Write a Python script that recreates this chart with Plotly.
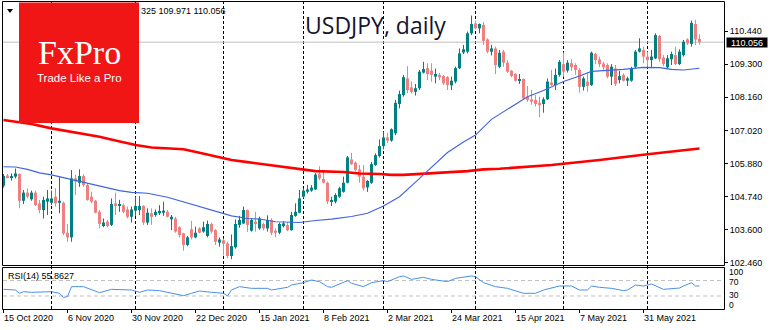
import pandas as pd
import plotly.graph_objects as go

# ---------------- data: USDJPY daily, 15 Oct 2020 - 18 Jun 2021 ----------------
opens = [105.12, 105.47, 105.38, 105.43, 105.52, 104.60, 104.88, 104.65, 104.88, 104.51,
         104.28, 104.57, 104.53, 104.74, 104.53, 104.53, 103.50, 103.34, 105.37, 105.22,
         105.45, 105.14, 104.74, 104.60, 104.22, 103.73, 103.88, 103.77, 104.51, 104.42,
         104.45, 104.30, 104.05, 104.26, 104.28, 104.42, 103.85, 104.17, 104.11, 104.17,
         104.19, 104.22, 103.96, 103.99, 103.69, 103.48, 103.08, 103.62, 103.34, 103.65,
         103.54, 103.39, 103.80, 103.59, 103.16, 103.24, 103.13, 102.70, 103.00, 103.77,
         103.82, 104.28, 103.57, 103.88, 103.65, 103.80, 103.65, 103.94, 103.57, 103.50,
         103.73, 103.77, 103.59, 104.08, 104.19, 104.74, 104.91, 104.95, 104.99, 105.52,
         105.35, 105.22, 104.57, 104.57, 104.74, 104.91, 105.22, 106.02, 105.91, 105.68,
         105.43, 105.06, 105.22, 105.83, 106.14, 106.48, 106.78, 106.67, 106.92, 107.93,
         108.24, 108.81, 108.50, 108.35, 108.47, 109.01, 109.16, 109.08, 108.87, 108.93,
         108.89, 108.85, 108.57, 108.70, 109.16, 109.70, 109.73, 110.36, 110.70, 110.53,
         110.65, 110.15, 109.73, 109.84, 109.21, 109.73, 109.35, 109.07, 108.96, 108.73,
         108.79, 108.18, 108.09, 108.07, 107.97, 107.93, 108.09, 108.67, 108.58, 108.93,
         109.30, 109.08, 109.33, 109.27, 109.10, 108.52, 108.70, 108.58, 109.65, 109.46,
         109.32, 109.27, 108.87, 109.15, 108.75, 108.93, 108.73, 108.73, 109.21, 109.73,
         109.79, 109.56, 109.44, 109.50, 110.27, 109.53, 109.19, 109.47, 109.61, 109.30,
         109.61, 110.15, 110.00, 110.68, 110.17]
highs = [105.52, 105.52, 105.54, 105.71, 105.54, 104.97, 105.03, 104.95, 104.95, 104.63,
         104.74, 104.97, 104.95, 105.03, 105.41, 104.57, 103.80, 105.66, 105.49, 105.68,
         105.52, 105.20, 104.91, 104.63, 104.28, 103.99, 103.94, 104.68, 104.88, 104.63,
         104.51, 104.40, 104.40, 104.74, 104.76, 104.45, 104.34, 104.34, 104.30, 104.45,
         104.57, 104.28, 104.11, 104.05, 103.73, 103.50, 103.39, 103.91, 103.71, 103.69,
         103.88, 103.92, 103.85, 103.62, 103.34, 103.30, 103.19, 103.44, 103.96, 104.08,
         104.40, 104.30, 104.00, 104.22, 104.05, 103.85, 104.10, 104.00, 103.65, 103.85,
         103.90, 103.85, 104.22, 104.51, 104.97, 105.03, 105.14, 105.14, 105.55, 105.79,
         105.60, 105.26, 104.74, 104.86, 105.08, 105.43, 106.14, 106.25, 105.95, 105.83,
         105.83, 105.31, 105.94, 106.23, 106.71, 106.98, 106.94, 107.09, 108.07, 108.39,
         108.93, 109.23, 108.70, 108.62, 109.10, 109.38, 109.33, 109.33, 109.15, 109.00,
         108.93, 108.89, 108.87, 109.21, 109.84, 109.96, 110.42, 110.97, 110.80, 110.70,
         110.75, 110.19, 109.96, 109.90, 109.79, 109.79, 109.44, 109.10, 108.99, 108.96,
         108.81, 108.55, 108.41, 108.24, 108.18, 108.16, 108.81, 109.10, 109.15, 109.44,
         109.70, 109.44, 109.47, 109.33, 109.16, 108.87, 108.98, 109.73, 109.69, 109.56,
         109.38, 109.33, 109.30, 109.27, 109.07, 108.98, 108.87, 109.21, 109.79, 110.19,
         109.90, 109.73, 109.79, 110.36, 110.30, 109.61, 109.61, 109.73, 109.90, 109.81,
         110.13, 110.19, 110.80, 110.82, 110.325]
lows = [105.05, 105.37, 105.29, 105.37, 104.34, 104.49, 104.68, 104.60, 104.42, 104.17,
        103.99, 104.11, 104.45, 104.40, 104.17, 103.42, 103.19, 103.19, 104.80, 105.08,
        105.08, 104.60, 104.51, 104.17, 103.65, 103.69, 103.69, 103.73, 104.11, 104.22,
        104.17, 103.99, 103.85, 104.08, 104.11, 103.77, 103.77, 103.77, 104.05, 104.11,
        104.08, 104.03, 103.59, 103.50, 103.34, 102.88, 103.04, 103.27, 103.31, 103.48,
        103.50, 103.34, 103.48, 103.08, 103.02, 102.72, 102.62, 102.59, 102.95, 103.67,
        103.80, 103.53, 103.54, 103.54, 103.60, 103.58, 103.54, 103.42, 103.34, 103.45,
        103.68, 103.55, 103.57, 104.05, 104.17, 104.68, 104.85, 104.91, 104.97, 105.31,
        105.20, 104.49, 104.42, 104.51, 104.70, 104.88, 105.20, 105.83, 105.60, 105.22,
        104.95, 104.91, 105.18, 105.80, 106.09, 106.37, 106.58, 106.63, 106.86, 107.78,
        108.18, 108.30, 108.29, 108.22, 108.41, 108.98, 108.75, 108.70, 108.64, 108.75,
        108.58, 108.41, 108.41, 108.64, 109.13, 109.65, 109.67, 110.30, 110.50, 110.36,
        109.96, 109.67, 109.60, 108.96, 109.16, 109.21, 109.00, 108.85, 108.70, 108.62,
        108.09, 108.00, 107.90, 107.84, 107.47, 107.63, 108.07, 108.55, 108.41, 108.87,
        108.87, 109.01, 109.07, 108.93, 108.32, 108.39, 108.35, 108.55, 109.30, 109.19,
        109.10, 108.81, 108.58, 108.55, 108.64, 108.70, 108.55, 108.70, 109.16, 109.70,
        109.33, 109.21, 109.16, 109.47, 109.38, 109.23, 109.16, 109.27, 109.27, 109.27,
        109.56, 109.96, 109.90, 109.96, 109.971]
closes = [105.45, 105.41, 105.45, 105.54, 104.60, 104.88, 104.74, 104.88, 104.45, 104.28,
          104.63, 104.68, 104.68, 104.51, 104.60, 103.48, 103.34, 105.37, 105.26, 105.45,
          105.14, 104.63, 104.57, 104.19, 103.80, 103.85, 103.73, 104.49, 104.42, 104.49,
          104.22, 104.05, 104.30, 104.42, 104.42, 103.85, 104.19, 104.05, 104.22, 104.25,
          104.26, 104.05, 104.05, 103.54, 103.42, 103.08, 103.34, 103.34, 103.50, 103.50,
          103.69, 103.80, 103.54, 103.19, 103.27, 103.12, 102.70, 103.04, 103.80, 103.94,
          104.28, 103.77, 103.94, 103.80, 103.99, 103.65, 103.94, 103.50, 103.50, 103.80,
          103.82, 103.59, 104.11, 104.22, 104.68, 104.95, 104.99, 105.05, 105.50, 105.37,
          105.22, 104.57, 104.60, 104.80, 105.03, 105.22, 106.09, 105.86, 105.66, 105.43,
          105.03, 105.28, 105.86, 106.17, 106.48, 106.78, 106.67, 107.06, 107.97, 108.27,
          108.85, 108.41, 108.35, 108.47, 109.04, 109.13, 108.96, 108.93, 108.96, 108.85,
          108.64, 108.58, 108.73, 109.16, 109.67, 109.81, 110.36, 110.68, 110.53, 110.68,
          110.10, 109.73, 109.84, 109.27, 109.69, 109.35, 109.04, 108.89, 108.73, 108.79,
          108.12, 108.07, 108.01, 107.93, 107.89, 108.09, 108.70, 108.58, 108.93, 109.38,
          109.04, 109.35, 109.19, 109.10, 108.52, 108.81, 108.55, 109.69, 109.44, 109.30,
          109.19, 108.87, 109.21, 108.62, 108.89, 108.73, 108.81, 109.15, 109.73, 109.84,
          109.56, 109.44, 109.56, 110.30, 109.47, 109.30, 109.50, 109.65, 109.30, 109.73,
          110.07, 110.01, 110.72, 110.15, 110.056]

# moving averages (value at bar index)
ma_fast_bars = [0, 3, 6, 9, 12, 16, 21, 24, 29, 32, 36, 41, 45, 49, 53, 57, 61, 64, 68, 74,
                78, 82, 87, 91, 95, 99, 103, 107, 111, 115, 118, 122, 126, 131, 135, 140, 144,
                147, 155, 160, 164, 167, 170, 174]
ma_fast_vals = [105.77, 105.76, 105.68, 105.56, 105.49, 105.36, 105.22, 105.10, 104.95, 104.89,
                104.86, 104.72, 104.56, 104.40, 104.22, 104.08, 103.99, 103.97, 103.88, 103.85,
                103.92, 103.97, 104.06, 104.17, 104.42, 104.74, 105.24, 105.76, 106.26, 106.62,
                106.86, 107.40, 107.74, 108.18, 108.39, 108.70, 108.89, 109.05, 109.12, 109.19,
                109.18, 109.12, 109.10, 109.16]
ma_slow_bars = [0, 3, 7, 12, 16, 20, 24, 28, 33, 37, 41, 45, 49, 53, 57, 61, 66, 70, 75, 78,
                85, 89, 94, 97, 100, 105, 112, 116, 120, 124, 137, 149, 161, 174]
ma_slow_vals = [107.38, 107.33, 107.24, 107.09, 107.00, 106.90, 106.80, 106.67, 106.52, 106.43,
                106.39, 106.37, 106.25, 106.12, 106.00, 105.93, 105.84, 105.75, 105.66, 105.62,
                105.59, 105.54, 105.52, 105.49, 105.49, 105.53, 105.57, 105.62, 105.68, 105.70,
                105.83, 106.00, 106.20, 106.40]

# RSI(14)
rsi_bars = [0, 3, 4, 5, 7, 9, 12, 14, 15, 16, 17, 20, 22, 24, 27, 31, 32, 34, 36, 39, 42, 45,
            47, 49, 52, 55, 56, 57, 59, 62, 66, 67, 71, 72, 75, 77, 79, 81, 82, 86, 87, 90, 92,
            95, 96, 99, 100, 102, 105, 107, 111, 113, 117, 118, 120, 122, 123, 126, 130, 133,
            135, 139, 142, 144, 146, 147, 149, 152, 155, 156, 158, 160, 162, 165, 167, 169,
            170, 172, 173, 174]
rsi_vals = [47.2, 45.5, 36.9, 41.2, 39.5, 39.5, 41.2, 36.9, 26.5, 28.3, 54.1, 54.1, 47.2, 38.6,
            47.2, 45.5, 45.5, 39.5, 45.5, 43.8, 36.9, 30.8, 36.9, 42.9, 39.5, 36.9, 30.0, 45.5,
            54.1, 49.8, 49.8, 45.5, 52.4, 58.4, 64.4, 71.3, 67.0, 54.1, 52.4, 69.6, 62.7, 54.1,
            64.4, 69.6, 67.0, 79.9, 81.7, 73.0, 78.2, 73.0, 67.0, 75.6, 81.7, 79.9, 64.4, 58.4,
            54.1, 49.8, 36.9, 36.9, 45.5, 55.8, 55.8, 45.5, 45.5, 55.8, 52.4, 49.8, 43.8, 45.5,
            58.4, 55.8, 61.0, 47.2, 49.8, 50.6, 55.8, 64.4, 55.8, 55.86]

price_ticks = [102.46, 103.60, 104.74, 105.88, 107.02, 108.16, 109.30, 110.44]
rsi_levels = [70, 30]
rsi_scale = ["100", "70", "30", "0"]
last_price = 110.056
header_text = "325 109.971 110.056"
rsi_caption = "RSI(14) 55.8627"
title_text = "USDJPY, daily"

dates = [d for d in pd.bdate_range("2020-10-15", "2021-06-18")
         if d.strftime("%m-%d") not in ("12-25", "01-01")]

# ---------------- geometry ----------------
W, H = 770, 330
ML, MR, MT, MB = 3, 46, 2, 21
PW, PH = W - ML - MR, H - MT - MB


def px(x):
    return (x - ML) / PW


def py(y):
    return (H - MB - y) / PH


def price_at(ypix):
    return 110.44 - (ypix - 31) / 29.07


n = len(closes)
xr = [-0.125, -0.125 + PW / 4.0]

BULL = "#008080"
BEAR = "#F08080"
FONT = "Liberation Sans, Arial, sans-serif"

fig = go.Figure()

# wicks
for sel, col in ((lambda o, c: c >= o, BULL), (lambda o, c: c < o, BEAR)):
    wx, wy = [], []
    for i in range(n):
        if sel(opens[i], closes[i]):
            wx += [i, i, None]
            wy += [lows[i], highs[i], None]
    fig.add_trace(go.Scatter(x=wx, y=wy, mode="lines", line=dict(color=col, width=1),
                             hoverinfo="skip", showlegend=False))

# bodies
for up, col in ((True, BULL), (False, BEAR)):
    idx = [i for i in range(n) if (closes[i] >= opens[i]) == up]
    fig.add_trace(go.Bar(
        x=idx,
        base=[min(opens[i], closes[i]) for i in idx],
        y=[max(abs(closes[i] - opens[i]), 0.035) for i in idx],
        width=0.75, marker=dict(color=col, line=dict(width=0)),
        hoverinfo="skip", showlegend=False))

# moving averages
fig.add_trace(go.Scatter(x=ma_slow_bars, y=ma_slow_vals, mode="lines",
                         line=dict(color="#FF0000", width=2.6), hoverinfo="skip", showlegend=False))
fig.add_trace(go.Scatter(x=ma_fast_bars, y=ma_fast_vals, mode="lines",
                         line=dict(color="#3F63E0", width=1.1), hoverinfo="skip", showlegend=False))

# RSI
fig.add_trace(go.Scatter(x=rsi_bars, y=rsi_vals, mode="lines", xaxis="x2", yaxis="y2",
                         line=dict(color="#4A90EC", width=1), hoverinfo="skip", showlegend=False))

shapes = []
# month separators
month_starts = [i for i in range(1, n) if dates[i].month != dates[i - 1].month]
for k in month_starts:
    shapes.append(dict(type="line", xref="x", yref="paper", x0=k, x1=k, y0=py(309), y1=py(2),
                       line=dict(color="black", width=1, dash="3px,2px"), layer="below"))
# current price line
shapes.append(dict(type="line", xref="paper", yref="y", x0=0, x1=1, y0=last_price, y1=last_price,
                   line=dict(color="#C0C0C0", width=1), layer="below"))
# RSI levels
for lv in rsi_levels:
    shapes.append(dict(type="line", xref="paper", yref="y2", x0=0, x1=1, y0=lv, y1=lv,
                       line=dict(color="#C0C0C0", width=1, dash="4px,3px"), layer="below"))
# logo block
shapes.append(dict(type="rect", xref="paper", yref="paper", x0=px(19), x1=px(139),
                   y0=py(123), y1=py(2.5), fillcolor="#F01616", line=dict(width=0), layer="above"))
# panel frames
shapes.append(dict(type="rect", xref="paper", yref="paper", x0=px(2.5), x1=px(724.5),
                   y0=py(265.5), y1=py(1.5), line=dict(color="black", width=1), layer="above"))
shapes.append(dict(type="rect", xref="paper", yref="paper", x0=px(2.5), x1=px(724.5),
                   y0=py(309.5), y1=py(267.5), line=dict(color="black", width=1), layer="above"))
# menu arrow
shapes.append(dict(type="path", xref="paper", yref="paper",
                   path=f"M {px(7)} {py(9)} L {px(13)} {py(9)} L {px(10)} {py(13)} Z",
                   fillcolor="black", line=dict(width=0), layer="above"))

annotations = [
    dict(text=title_text, xref="paper", yref="paper", x=px(302.5), y=py(25), xanchor="left",
         yanchor="middle", showarrow=False, font=dict(family="Open Sans", size=23, color="#14142e")),
    dict(text="FxPro", xref="paper", yref="paper", x=px(79), y=py(53), xanchor="center",
         yanchor="middle", showarrow=False,
         font=dict(family="Liberation Serif, serif", size=34, color="white")),
    dict(text="Trade Like a Pro", xref="paper", yref="paper", x=px(79), y=py(78), xanchor="center",
         yanchor="middle", showarrow=False, font=dict(family=FONT, size=11.5, color="white")),
    dict(text=header_text, xref="paper", yref="paper", x=px(139), y=py(11), xanchor="left",
         yanchor="middle", showarrow=False, font=dict(family=FONT, size=9, color="black")),
    dict(text=rsi_caption, xref="paper", yref="paper", x=px(6), y=py(276), xanchor="left",
         yanchor="middle", showarrow=False, font=dict(family=FONT, size=9, color="black")),
    dict(text=f"{last_price:.3f}", xref="paper", yref="y", x=px(725.7), y=last_price,
         xanchor="left", yanchor="middle", showarrow=False, bgcolor="black",
         width=40, height=9, borderpad=0, align="center",
         font=dict(family=FONT, size=9, color="white")),
]
# RSI scale labels, stacked down the right edge of the lower panel
for txt, ypix in zip(rsi_scale, (271.5, 282.0, 294.8, 305.3)):
    annotations.append(dict(text=txt, xref="paper", yref="paper", x=px(728), y=py(ypix),
                            xanchor="left", yanchor="middle", showarrow=False, borderpad=0,
                            font=dict(family=FONT, size=8.5, color="black")))

tick_idx = list(range(0, n, 16))
tick_txt = [f"{dates[i].day} {dates[i].strftime('%b %Y')}" for i in tick_idx]

fig.update_layout(
    width=W, height=H, margin=dict(l=ML, r=MR, t=MT, b=MB),
    paper_bgcolor="white", plot_bgcolor="white",
    barmode="overlay", showlegend=False,
    shapes=shapes, annotations=annotations,
    xaxis=dict(domain=[0, 1], range=xr, anchor="y", showticklabels=False, ticks="",
               showgrid=False, zeroline=False, showline=False, fixedrange=True),
    yaxis=dict(domain=[py(265), 1], range=[price_at(265), price_at(2)], side="right",
               tickvals=price_ticks, ticktext=[f"{v:.3f}" for v in price_ticks],
               ticks="outside", ticklen=3, tickcolor="black", tickwidth=1,
               tickfont=dict(family=FONT, size=9, color="black"),
               showgrid=False, zeroline=False, showline=False),
    xaxis2=dict(domain=[0, 1], range=xr, anchor="y2", matches="x",
                tickvals=tick_idx, ticktext=tick_txt, ticks="outside", ticklen=3,
                tickcolor="black", ticklabelposition="outside right",
                tickfont=dict(family=FONT, size=9, color="black"),
                showgrid=False, zeroline=False, showline=False),
    yaxis2=dict(domain=[0, py(267)], range=[-3.6, 104.9], side="right", anchor="x2",
                showticklabels=False, ticks="",
                showgrid=False, zeroline=False, showline=False),
)

fig.write_html("out.html")
